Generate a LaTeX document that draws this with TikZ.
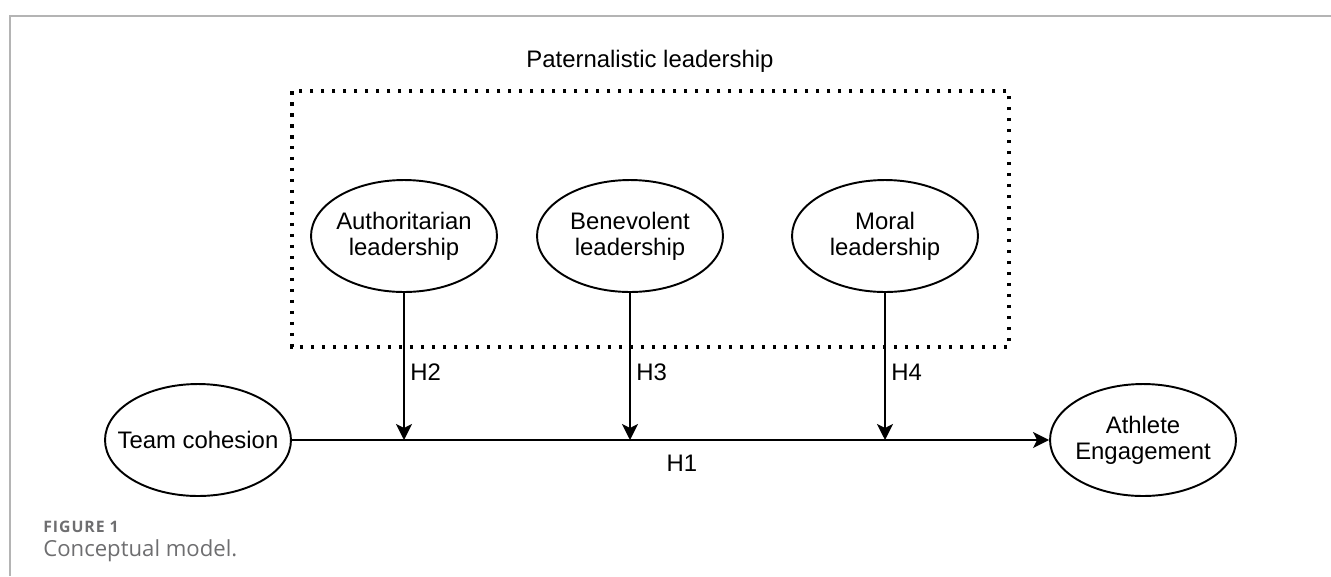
\documentclass[tikz,border=0pt]{standalone}
\usepackage{fontspec}
\setmainfont{Liberation Sans}
\newfontfamily\capfont{Open Sans}
\usetikzlibrary{shapes.geometric,arrows.meta}
\definecolor{framegray}{HTML}{B4B4B4}
\definecolor{capgray}{HTML}{6E6E70}
\begin{document}
\begin{tikzpicture}[x=0.02cm, y=-0.02cm]
\tikzset{ >={Stealth[length=0.32cm, width=0.32cm, inset=0.08cm]},
  nodefont/.style={font=\fontsize{13.6}{14.6}\selectfont},
  construct/.style={draw, ellipse, line width=1.1pt, inner sep=0pt,
    minimum width=3.72cm, minimum height=2.24cm,
    label={[nodefont, align=center, inner sep=0pt]center:#1}},
  path/.style={line width=1.1pt},
  hlabel/.style={nodefont, inner sep=0pt},
}
\useasboundingbox (0,0) rectangle (1331,576);
%\draw [lightgray, dashed](0,0) grid [step=50] (1331,576);

% page frame
\draw [framegray, line width=1pt] (1331,16) -- (10,16) -- (10,576);

% moderators
\draw [line width=2pt, dash pattern=on 0.07cm off 0.15cm] (292,91) rectangle (1009,347);
\node [hlabel] (PL) at (650,61) {Paternalistic leadership};

\node [construct={Authoritarian\\leadership}] (AL) at (404,236) {};
\node [construct={Benevolent\\leadership}] (BL) at (630,236) {};
\node [construct={Moral\\leadership}] (ML) at (885,236) {};

% main path
\node [construct={Team cohesion}] (TC) at (198,440) {};
\node [construct={Athlete\\Engagement}] (AE) at (1143,440) {};

\draw [->, path] (TC) -- (AE);

\draw [->, path] (AL) -- (AL |- TC.east);
\draw [->, path] (BL) -- (BL |- TC.east);
\draw [->, path] (ML) -- (ML |- TC.east);

\node [hlabel, anchor=west] (H2) at (410,372) {H2};
\node [hlabel, anchor=west] (H3) at (636,372) {H3};
\node [hlabel, anchor=west] (H4) at (891,372) {H4};
\node [hlabel] (H1) at (682,463) {H1};

% caption
\node [anchor=west, inner sep=0pt, text=capgray, font=\capfont\fontsize{9}{11}\selectfont\bfseries\addfontfeature{LetterSpace=6}] (FIG) at (43,527) {FIGURE 1};
\node [anchor=west, inner sep=0pt, text=capgray, font=\capfont\fontsize{12.6}{15}\selectfont] (CAP) at (43,551) {Conceptual model.};

\end{tikzpicture}
\end{document}
